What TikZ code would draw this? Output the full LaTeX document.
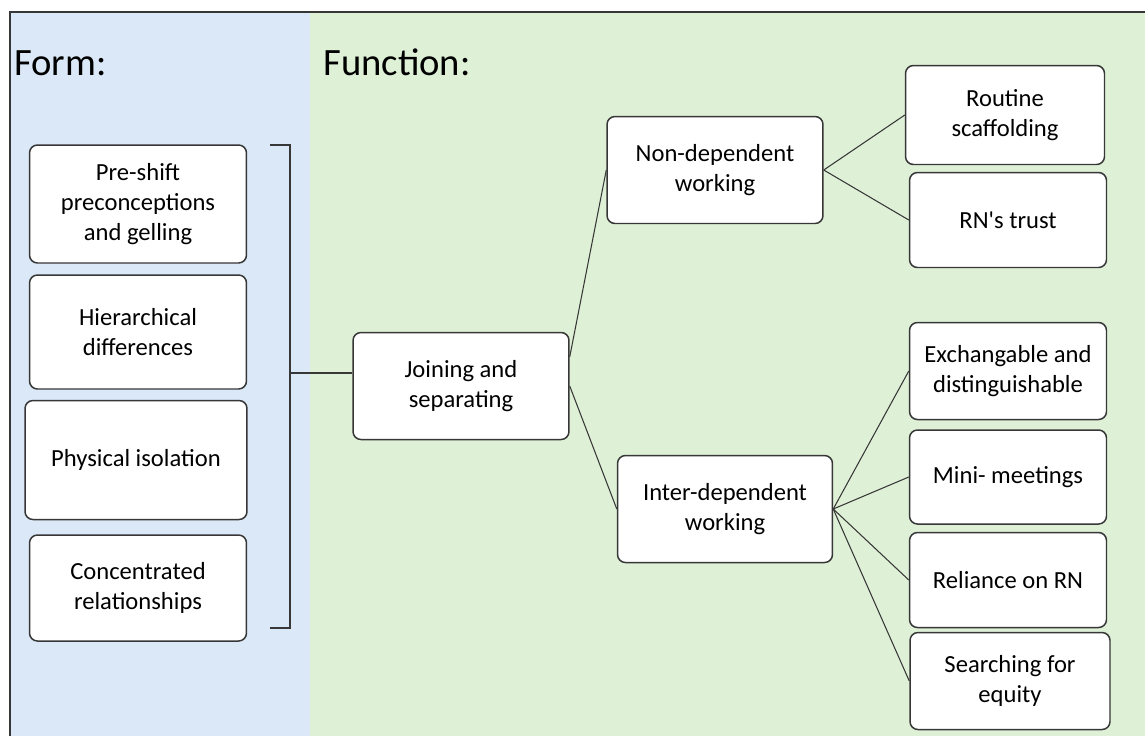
\documentclass[tikz,border=0pt]{standalone}
\usepackage{fontspec}
\setmainfont{Carlito}[Ligatures=TeXOff]
\usepackage{tikz}
\usetikzlibrary{positioning}
\definecolor{formblue}{RGB}{219,232,247}
\definecolor{funcgreen}{RGB}{222,240,214}
\definecolor{edgegray}{RGB}{55,55,55}
\tikzstyle{line} = [draw, edgegray, line width=0.6pt]
\tikzstyle{block} = [draw=edgegray, fill=white, rectangle, rounded corners=4.5pt, align=center, line width=0.85pt, inner sep=2pt, font=\fontsize{14}{17}\selectfont]
\tikzstyle{formbox} = [block, minimum width=4.34cm]
\tikzstyle{midbox} = [block, minimum width=4.32cm, minimum height=2.14cm]
\tikzstyle{leafbox} = [block, minimum width=3.94cm]
\tikzstyle{title} = [anchor=base west, inner sep=0pt, font=\fontsize{22}{26}\selectfont]

\begin{document}
\begin{tikzpicture}[x=0.02cm, y=-0.02cm]
    \useasboundingbox (0,0) rectangle (1145,735);
    \clip (0,0) rectangle (1145,735);
    % panels
    \fill[formblue] (10,12) rectangle (310,760);
    \fill[funcgreen] (310,12) rectangle (1160,760);
    \draw[edgegray, line width=1pt] (10,760) -- (10,12) -- (1160,12);
    \node[title] (formtitle) at (14,75) {Form:};
    \node[title] (functitle) at (323,75) {Function:};
    % form
    \node[formbox, minimum height=2.36cm] (preshift) at (138,204) {Pre-shift\\preconceptions\\and gelling};
    \node[formbox, minimum height=2.28cm] (hier) at (138,332) {Hierarchical\\differences};
    \node[formbox, minimum width=4.44cm, minimum height=2.38cm] (phys) at (136,460) {Physical isolation};
    \node[formbox, minimum height=2.12cm] (conc) at (138,588) {Concentrated\\relationships};
    \coordinate (brtop) at (270,145);
    \coordinate (brbot) at (270,628);
    \coordinate (brmid) at (290,373);
    \draw[line] (brtop) -- (brtop -| brmid) -- (brbot -| brmid) -- (brbot);
    % function
    \node[midbox] (join) at (461,386) {Joining and\\separating};
    \node[midbox] (nondep) at (715,170) {Non-dependent\\working};
    \node[midbox, minimum width=4.3cm] (interdep) at (725,509) {Inter-dependent\\working};
    \node[leafbox, minimum width=3.98cm, minimum height=1.98cm] (routine) at (1005,115) {Routine\\scaffolding};
    \node[leafbox, minimum height=1.9cm] (trust) at (1008,220) {RN's trust};
    \node[leafbox, minimum height=1.94cm] (exch) at (1008,371) {Exchangable and\\distinguishable};
    \node[leafbox, minimum height=1.88cm] (mini) at (1008,477) {Mini- meetings};
    \node[leafbox, minimum height=1.9cm] (reliance) at (1008,580) {Reliance on RN};
    \node[leafbox, minimum width=4cm, minimum height=1.94cm] (equity) at (1010,681) {Searching for\\equity};
    \path[line] (brmid) -- (brmid -| join.west);
    \path[line] (join.15) -- (nondep.west);
    \path[line] (join.east) -- (interdep.west);
    \path[line] (nondep.east) -- (routine.west);
    \path[line] (nondep.east) -- (trust.west);
    \path[line] (interdep.east) -- (exch.west);
    \path[line] (interdep.east) -- (mini.west);
    \path[line] (interdep.east) -- (reliance.west);
    \path[line] (interdep.east) -- (equity.west);
\end{tikzpicture}
\end{document}
